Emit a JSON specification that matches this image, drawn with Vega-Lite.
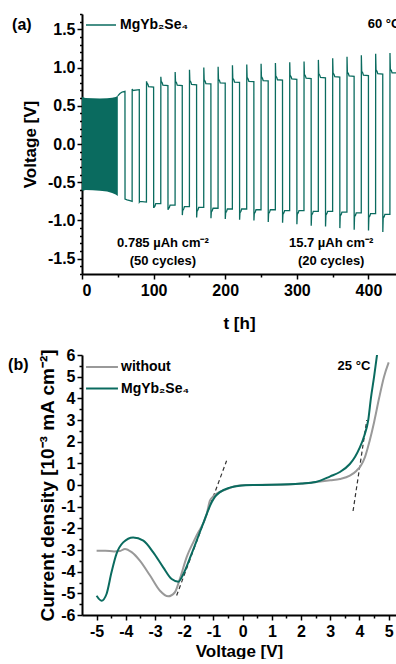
{
  "$schema": "https://vega.github.io/schema/vega-lite/v6.json",
  "padding": {"left": 8, "top": 6, "right": 0, "bottom": 0},
  "bounds": "flush",
  "spacing": 81,
  "config": {
    "font": "Liberation Sans",
    "view": {"stroke": null},
    "axis": {
      "labelFont": "Liberation Sans", "labelFontSize": 16, "labelFontWeight": "bold", "labelColor": "black",
      "titleFont": "Liberation Sans", "titleFontSize": 17, "titleFontWeight": "bold", "titleColor": "black",
      "tickColor": "black", "tickWidth": 1.5, "domainColor": "black", "domainWidth": 2, "grid": false,
      "labelPadding": 2, "labelOverlap": false
    },
    "legend": {
      "orient": "none", "legendX": 3, "legendY": -5, "padding": 0, "title": null, "symbolType": "stroke",
      "labelFont": "Liberation Sans", "labelFontSize": 14, "labelFontWeight": "bold", "labelColor": "black",
      "labelOffset": 3, "rowPadding": 0
    }
  },
  "resolve": {"scale": {"color": "independent"}, "legend": {"color": "independent"}},
  "datasets": {
    "band": [
      {"t": 0, "v": 0.62, "lo": -0.6}, {"t": 1, "v": 0.61, "lo": -0.61}, {"t": 5, "v": 0.6, "lo": -0.6},
      {"t": 15, "v": 0.597, "lo": -0.605}, {"t": 25, "v": 0.595, "lo": -0.61}, {"t": 35, "v": 0.597, "lo": -0.62},
      {"t": 42, "v": 0.605, "lo": -0.64}, {"t": 47, "v": 0.615, "lo": -0.66}, {"t": 50, "v": 0.63, "lo": -0.68}
    ],
    "cyc": [
      {"t": 50, "v": 0.63}, {"t": 53, "v": 0.66}, {"t": 56, "v": 0.68}, {"t": 60, "v": 0.69},
      {"t": 60.1, "v": -0.72}, {"t": 63, "v": -0.73}, {"t": 67, "v": -0.74}, {"t": 70, "v": -0.75},
      {"t": 70.1, "v": 0.72}, {"t": 71, "v": 0.7}, {"t": 80, "v": 0.71},
      {"t": 80.1, "v": -0.76}, {"t": 81, "v": -0.75}, {"t": 90, "v": -0.76},
      {"t": 90.1, "v": 0.82}, {"t": 90.6, "v": 0.8}, {"t": 92, "v": 0.78}, {"t": 93, "v": 0.75}, {"t": 100, "v": 0.745},
      {"t": 100.1, "v": -0.83}, {"t": 100.6, "v": -0.83}, {"t": 102, "v": -0.81}, {"t": 103, "v": -0.78}, {"t": 110, "v": -0.78},
      {"t": 110.1, "v": 0.88}, {"t": 110.6, "v": 0.82}, {"t": 112, "v": 0.8}, {"t": 113, "v": 0.77}, {"t": 120, "v": 0.765},
      {"t": 120.1, "v": -0.86}, {"t": 120.6, "v": -0.85}, {"t": 122, "v": -0.83}, {"t": 123, "v": -0.8}, {"t": 130, "v": -0.8},
      {"t": 130.1, "v": 0.94}, {"t": 130.6, "v": 0.82}, {"t": 132, "v": 0.8}, {"t": 133, "v": 0.77}, {"t": 140, "v": 0.765},
      {"t": 140.1, "v": -0.93}, {"t": 140.6, "v": -0.87}, {"t": 142, "v": -0.85}, {"t": 143, "v": -0.82}, {"t": 150, "v": -0.82},
      {"t": 150.1, "v": 0.97}, {"t": 150.6, "v": 0.83}, {"t": 152, "v": 0.81}, {"t": 153, "v": 0.78}, {"t": 160, "v": 0.775},
      {"t": 160.1, "v": -0.96}, {"t": 160.6, "v": -0.88}, {"t": 162, "v": -0.86}, {"t": 163, "v": -0.83}, {"t": 170, "v": -0.83},
      {"t": 170.1, "v": 1.0}, {"t": 170.6, "v": 0.84}, {"t": 172, "v": 0.82}, {"t": 173, "v": 0.79}, {"t": 180, "v": 0.785},
      {"t": 180.1, "v": -0.97}, {"t": 180.6, "v": -0.89}, {"t": 182, "v": -0.87}, {"t": 183, "v": -0.84}, {"t": 190, "v": -0.84},
      {"t": 190.1, "v": 1.01}, {"t": 190.6, "v": 0.85}, {"t": 192, "v": 0.83}, {"t": 193, "v": 0.8}, {"t": 200, "v": 0.795},
      {"t": 200.1, "v": -0.98}, {"t": 200.6, "v": -0.9}, {"t": 202, "v": -0.88}, {"t": 203, "v": -0.85}, {"t": 210, "v": -0.85},
      {"t": 210.1, "v": 1.03}, {"t": 210.6, "v": 0.86}, {"t": 212, "v": 0.84}, {"t": 213, "v": 0.81}, {"t": 220, "v": 0.805},
      {"t": 220.1, "v": -0.99}, {"t": 220.6, "v": -0.9}, {"t": 222, "v": -0.88}, {"t": 223, "v": -0.85}, {"t": 230, "v": -0.85},
      {"t": 230.1, "v": 1.04}, {"t": 230.6, "v": 0.87}, {"t": 232, "v": 0.85}, {"t": 233, "v": 0.82}, {"t": 240, "v": 0.815},
      {"t": 240.1, "v": -1.0}, {"t": 240.6, "v": -0.91}, {"t": 242, "v": -0.89}, {"t": 243, "v": -0.86}, {"t": 250, "v": -0.86},
      {"t": 250.1, "v": 1.05}, {"t": 250.6, "v": 0.88}, {"t": 252, "v": 0.86}, {"t": 253, "v": 0.83}, {"t": 260, "v": 0.825},
      {"t": 260.1, "v": -1.02}, {"t": 260.6, "v": -0.91}, {"t": 262, "v": -0.89}, {"t": 263, "v": -0.86}, {"t": 270, "v": -0.86},
      {"t": 270.1, "v": 1.06}, {"t": 270.6, "v": 0.89}, {"t": 272, "v": 0.87}, {"t": 273, "v": 0.84}, {"t": 280, "v": 0.835},
      {"t": 280.1, "v": -1.03}, {"t": 280.6, "v": -0.92}, {"t": 282, "v": -0.9}, {"t": 283, "v": -0.87}, {"t": 290, "v": -0.87},
      {"t": 290.1, "v": 1.07}, {"t": 290.6, "v": 0.9}, {"t": 292, "v": 0.88}, {"t": 293, "v": 0.85}, {"t": 300, "v": 0.845},
      {"t": 300.1, "v": -1.05}, {"t": 300.6, "v": -0.92}, {"t": 302, "v": -0.9}, {"t": 303, "v": -0.87}, {"t": 310, "v": -0.87},
      {"t": 310.1, "v": 1.08}, {"t": 310.6, "v": 0.91}, {"t": 312, "v": 0.89}, {"t": 313, "v": 0.86}, {"t": 320, "v": 0.855},
      {"t": 320.1, "v": -1.07}, {"t": 320.6, "v": -0.93}, {"t": 322, "v": -0.91}, {"t": 323, "v": -0.88}, {"t": 330, "v": -0.88},
      {"t": 330.1, "v": 1.1}, {"t": 330.6, "v": 0.92}, {"t": 332, "v": 0.9}, {"t": 333, "v": 0.87}, {"t": 340, "v": 0.865},
      {"t": 340.1, "v": -1.08}, {"t": 340.6, "v": -0.93}, {"t": 342, "v": -0.91}, {"t": 343, "v": -0.88}, {"t": 350, "v": -0.88},
      {"t": 350.1, "v": 1.12}, {"t": 350.6, "v": 0.93}, {"t": 352, "v": 0.91}, {"t": 353, "v": 0.88}, {"t": 360, "v": 0.875},
      {"t": 360.1, "v": -1.1}, {"t": 360.6, "v": -0.94}, {"t": 362, "v": -0.92}, {"t": 363, "v": -0.89}, {"t": 370, "v": -0.89},
      {"t": 370.1, "v": 1.14}, {"t": 370.6, "v": 0.94}, {"t": 372, "v": 0.92}, {"t": 373, "v": 0.89}, {"t": 380, "v": 0.885},
      {"t": 380.1, "v": -1.12}, {"t": 380.6, "v": -0.95}, {"t": 382, "v": -0.93}, {"t": 383, "v": -0.9}, {"t": 390, "v": -0.9},
      {"t": 390.1, "v": 1.16}, {"t": 390.6, "v": 0.95}, {"t": 392, "v": 0.93}, {"t": 393, "v": 0.9}, {"t": 400, "v": 0.895},
      {"t": 400.1, "v": -1.13}, {"t": 400.6, "v": -0.96}, {"t": 402, "v": -0.94}, {"t": 403, "v": -0.91}, {"t": 410, "v": -0.91},
      {"t": 410.1, "v": 1.18}, {"t": 410.6, "v": 0.97}, {"t": 412, "v": 0.95}, {"t": 413, "v": 0.92}, {"t": 420, "v": 0.915},
      {"t": 420.1, "v": -1.15}, {"t": 420.6, "v": -0.97}, {"t": 422, "v": -0.95}, {"t": 423, "v": -0.92}, {"t": 430, "v": -0.92},
      {"t": 430.1, "v": 1.19}, {"t": 430.6, "v": 0.98}, {"t": 432, "v": 0.96}, {"t": 433, "v": 0.93}, {"t": 438.5, "v": 0.93}
    ],
    "annA": [
      {"t": 113, "v": -1.29, "label": "0.785 µAh cm⁻²"},
      {"t": 113, "v": -1.53, "label": "(50 cycles)"},
      {"t": 348, "v": -1.29, "label": "15.7 µAh cm⁻²"},
      {"t": 348, "v": -1.53, "label": "(20 cycles)"}
    ],
    "iv": [
      {"s": "without", "V": -5, "J": -3.03}, {"s": "without", "V": -4.7, "J": -3.03}, {"s": "without", "V": -4.4, "J": -3.07},
      {"s": "without", "V": -4.2, "J": -3.05}, {"s": "without", "V": -4.03, "J": -2.95}, {"s": "without", "V": -3.8, "J": -3.1},
      {"s": "without", "V": -3.52, "J": -3.49}, {"s": "without", "V": -3.17, "J": -4.18}, {"s": "without", "V": -2.83, "J": -4.88},
      {"s": "without", "V": -2.55, "J": -5.14}, {"s": "without", "V": -2.32, "J": -4.95}, {"s": "without", "V": -2.15, "J": -4.33},
      {"s": "without", "V": -1.92, "J": -3.34}, {"s": "without", "V": -1.58, "J": -2.34}, {"s": "without", "V": -1.23, "J": -1.34},
      {"s": "without", "V": -1.12, "J": -0.72}, {"s": "without", "V": -1.0, "J": -0.52}, {"s": "without", "V": -0.56, "J": -0.2},
      {"s": "without", "V": -0.22, "J": -0.05}, {"s": "without", "V": 0.13, "J": 0}, {"s": "without", "V": 1.0, "J": 0.01},
      {"s": "without", "V": 2.0, "J": 0.06}, {"s": "without", "V": 2.53, "J": 0.14}, {"s": "without", "V": 3.0, "J": 0.22},
      {"s": "without", "V": 3.33, "J": 0.28}, {"s": "without", "V": 3.67, "J": 0.43}, {"s": "without", "V": 3.9, "J": 0.66},
      {"s": "without", "V": 4.05, "J": 0.9}, {"s": "without", "V": 4.19, "J": 1.3}, {"s": "without", "V": 4.34, "J": 2.0},
      {"s": "without", "V": 4.5, "J": 2.9}, {"s": "without", "V": 4.67, "J": 4.0}, {"s": "without", "V": 4.84, "J": 5.0},
      {"s": "without", "V": 5.0, "J": 5.66},
      {"s": "MgYb₂Se₄", "V": -5, "J": -5.11}, {"s": "MgYb₂Se₄", "V": -4.83, "J": -5.34}, {"s": "MgYb₂Se₄", "V": -4.66, "J": -5.03},
      {"s": "MgYb₂Se₄", "V": -4.49, "J": -4.03}, {"s": "MgYb₂Se₄", "V": -4.32, "J": -3.18}, {"s": "MgYb₂Se₄", "V": -4.09, "J": -2.65},
      {"s": "MgYb₂Se₄", "V": -3.75, "J": -2.42}, {"s": "MgYb₂Se₄", "V": -3.4, "J": -2.57}, {"s": "MgYb₂Se₄", "V": -3.06, "J": -3.11},
      {"s": "MgYb₂Se₄", "V": -2.72, "J": -3.8}, {"s": "MgYb₂Se₄", "V": -2.43, "J": -4.34}, {"s": "MgYb₂Se₄", "V": -2.2, "J": -4.46},
      {"s": "MgYb₂Se₄", "V": -2.03, "J": -4.11}, {"s": "MgYb₂Se₄", "V": -1.75, "J": -3.18}, {"s": "MgYb₂Se₄", "V": -1.4, "J": -1.95},
      {"s": "MgYb₂Se₄", "V": -1.06, "J": -0.8}, {"s": "MgYb₂Se₄", "V": -0.95, "J": -0.55}, {"s": "MgYb₂Se₄", "V": -0.79, "J": -0.34},
      {"s": "MgYb₂Se₄", "V": -0.44, "J": -0.12}, {"s": "MgYb₂Se₄", "V": -0.1, "J": -0.03}, {"s": "MgYb₂Se₄", "V": 0.35, "J": 0},
      {"s": "MgYb₂Se₄", "V": 1.0, "J": 0.01}, {"s": "MgYb₂Se₄", "V": 2.0, "J": 0.07}, {"s": "MgYb₂Se₄", "V": 2.5, "J": 0.14},
      {"s": "MgYb₂Se₄", "V": 3.0, "J": 0.4}, {"s": "MgYb₂Se₄", "V": 3.33, "J": 0.6}, {"s": "MgYb₂Se₄", "V": 3.67, "J": 0.97},
      {"s": "MgYb₂Se₄", "V": 3.85, "J": 1.3}, {"s": "MgYb₂Se₄", "V": 4.0, "J": 1.7}, {"s": "MgYb₂Se₄", "V": 4.17, "J": 2.3},
      {"s": "MgYb₂Se₄", "V": 4.3, "J": 3.0}, {"s": "MgYb₂Se₄", "V": 4.39, "J": 4.0}, {"s": "MgYb₂Se₄", "V": 4.5, "J": 5.0},
      {"s": "MgYb₂Se₄", "V": 4.61, "J": 6.1}
    ],
    "tangents": [
      {"g": "left", "V": -2.26, "J": -5.1}, {"g": "left", "V": -0.55, "J": 1.12},
      {"g": "right", "V": 3.78, "J": -1.2}, {"g": "right", "V": 4.25, "J": 3.0}
    ]
  },
  "vconcat": [
    {
      "width": 314,
      "height": 260,
      "encoding": {
        "x": {
          "field": "t", "type": "quantitative",
          "scale": {"domain": [0, 438.5], "nice": false, "zero": false},
          "axis": {
            "title": "t [h]", "titlePadding": 17, "labelOverlap": false,
            "values": [0, 50, 100, 150, 200, 250, 300, 350, 400],
            "labelExpr": "datum.value % 100 === 0 ? datum.label : ''",
            "tickSize": {"condition": {"test": "datum.value % 100 === 0", "value": 5}, "value": 3},
            "labelPadding": 3
          }
        },
        "y": {
          "field": "v", "type": "quantitative",
          "scale": {"domain": [-1.7, 1.7], "nice": false, "zero": false},
          "axis": {
            "title": "Voltage [V]", "titlePadding": 8, "labelOverlap": false,
            "values": [-1.7, -1.6, -1.5, -1.4, -1.3, -1.2, -1.1, -1.0, -0.9, -0.8, -0.7, -0.6, -0.5, -0.4, -0.3, -0.2, -0.1, 0, 0.1, 0.2, 0.3, 0.4, 0.5, 0.6, 0.7, 0.8, 0.9, 1.0, 1.1, 1.2, 1.3, 1.4, 1.5, 1.6, 1.7],
            "labelExpr": "(abs(datum.value*10) % 5 < 0.01 || abs(datum.value*10) % 5 > 4.99) ? replace(format(datum.value, '.1f'), '−', '-') : ''",
            "tickSize": {"condition": {"test": "abs(datum.value*10) % 5 < 0.01 || abs(datum.value*10) % 5 > 4.99", "value": 5}, "value": 2.5}
          }
        }
      },
      "layer": [
        {
          "data": {"name": "band"},
          "mark": {"type": "area", "color": "#0a6b5f", "opacity": 1},
          "encoding": {"y2": {"field": "lo"}}
        },
        {
          "data": {"name": "cyc"},
          "mark": {"type": "line", "strokeWidth": 1.3, "clip": true},
          "encoding": {
            "color": {
              "datum": "MgYb₂Se₄", "type": "nominal",
              "scale": {"domain": ["MgYb₂Se₄"], "range": ["#0a6b5f"]},
              "legend": {"symbolSize": 900, "symbolStrokeWidth": 1.5}
            }
          }
        },
        {
          "data": {"values": [{}]},
          "mark": {"type": "rule", "color": "black", "strokeWidth": 2},
          "encoding": {"x": {"datum": 0}, "x2": {"datum": 438.5}, "y": {"datum": 1.7}}
        },
        {
          "data": {"name": "annA"},
          "mark": {"type": "text", "font": "Liberation Sans", "fontSize": 13, "fontWeight": "bold", "color": "black", "baseline": "middle"},
          "encoding": {"text": {"field": "label"}}
        },
        {
          "data": {"values": [{"t": 399, "v": 1.57, "label": "60 °C"}]},
          "mark": {"type": "text", "font": "Liberation Sans", "fontSize": 13, "fontWeight": "bold", "color": "black", "align": "left", "baseline": "middle", "clip": true},
          "encoding": {"text": {"field": "label"}}
        },
        {
          "data": {"values": [{"t": -97.6, "v": 1.55, "label": "(a)"}]},
          "mark": {"type": "text", "font": "Liberation Sans", "fontSize": 16, "fontWeight": "bold", "color": "black", "align": "left", "baseline": "middle"},
          "encoding": {"text": {"field": "label"}}
        }
      ]
    },
    {
      "width": 314,
      "height": 260,
      "encoding": {
        "x": {
          "field": "V", "type": "quantitative",
          "scale": {"domain": [-5.5, 5.25], "nice": false, "zero": false},
          "axis": {
            "title": "Voltage [V]", "titlePadding": 4, "labelOverlap": false,
            "values": [-5, -4.5, -4, -3.5, -3, -2.5, -2, -1.5, -1, -0.5, 0, 0.5, 1, 1.5, 2, 2.5, 3, 3.5, 4, 4.5, 5],
            "labelExpr": "datum.value % 1 === 0 ? replace(format(datum.value, 'd'), '−', '-') : ''",
            "tickSize": {"condition": {"test": "datum.value % 1 === 0", "value": 5}, "value": 3},
            "labelPadding": 3
          }
        },
        "y": {
          "field": "J", "type": "quantitative",
          "scale": {"domain": [-6, 6], "nice": false, "zero": false},
          "axis": {
            "title": "Current density [10⁻³ mA cm⁻²]", "titlePadding": 3, "titleFontSize": 19, "labelOverlap": false,
            "values": [-6, -5.5, -5, -4.5, -4, -3.5, -3, -2.5, -2, -1.5, -1, -0.5, 0, 0.5, 1, 1.5, 2, 2.5, 3, 3.5, 4, 4.5, 5, 5.5, 6],
            "labelExpr": "datum.value % 1 === 0 ? replace(format(datum.value, 'd'), '−', '-') : ''",
            "tickSize": {"condition": {"test": "datum.value % 1 === 0", "value": 5}, "value": 3}
          }
        }
      },
      "layer": [
        {
          "data": {"values": [{}]},
          "mark": {"type": "rule", "color": "#444444", "strokeWidth": 1},
          "encoding": {"x": {"datum": -5.5}, "x2": {"datum": 5.25}, "y": {"datum": 0}}
        },
        {
          "data": {"name": "tangents"},
          "mark": {"type": "line", "color": "#333333", "strokeWidth": 1.2, "strokeDash": [4, 3]},
          "encoding": {"detail": {"field": "g"}}
        },
        {
          "data": {"name": "iv"},
          "mark": {"type": "line", "strokeWidth": 2, "interpolate": "monotone", "clip": true},
          "encoding": {
            "color": {
              "field": "s", "type": "nominal", "sort": null,
              "scale": {"domain": ["without", "MgYb₂Se₄"], "range": ["#999999", "#0a6b5f"]},
              "legend": {
                "symbolType": "M-1.45,0H1.45", "symbolSize": 484, "symbolStrokeWidth": 2,
                "legendX": 8, "legendY": 0, "labelOffset": 7, "rowPadding": 2.5
              }
            }
          }
        },
        {
          "data": {"values": [{"V": 3.81, "J": 5.49, "label": "25 °C"}]},
          "mark": {"type": "text", "font": "Liberation Sans", "fontSize": 13, "fontWeight": "bold", "color": "black", "baseline": "middle"},
          "encoding": {"text": {"field": "label"}}
        },
        {
          "data": {"values": [{"V": -8.03, "J": 5.54, "label": "(b)"}]},
          "mark": {"type": "text", "font": "Liberation Sans", "fontSize": 16, "fontWeight": "bold", "color": "black", "align": "left", "baseline": "middle"},
          "encoding": {"text": {"field": "label"}}
        },
        {
          "data": {"values": [{}]},
          "mark": {"type": "rule", "color": "black", "strokeWidth": 2},
          "encoding": {"x": {"datum": -5.5}, "x2": {"datum": 5.25}, "y": {"datum": 6}}
        }
      ]
    }
  ]
}
